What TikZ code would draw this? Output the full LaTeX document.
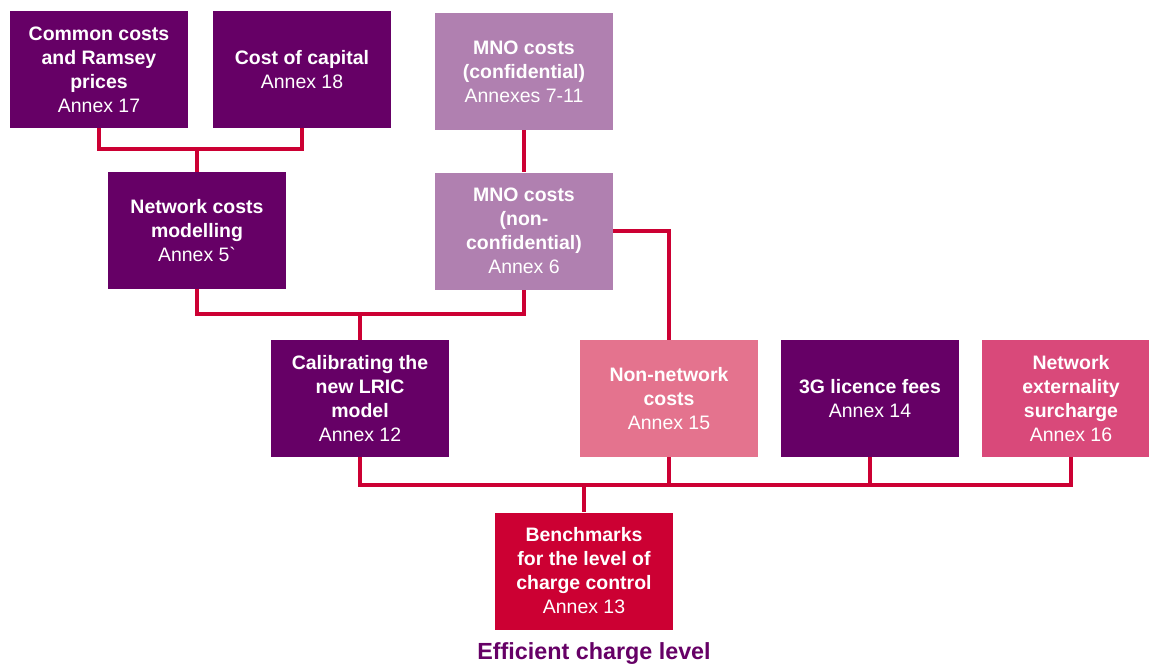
\documentclass[tikz,border=0pt]{standalone}
\usepackage{fontspec}
\setmainfont{Liberation Sans}
\usetikzlibrary{positioning}
\definecolor{deeppurple}{RGB}{102,0,102}
\definecolor{lilac}{RGB}{176,128,176}
\definecolor{rosepink}{RGB}{228,115,142}
\definecolor{raspberry}{RGB}{217,73,122}
\definecolor{crimson}{RGB}{204,0,51}
\tikzset{
  annexbox/.style={
    rectangle,
    fill=#1,
    text=white,
    minimum width=133.5pt,
    minimum height=87.75pt,
    inner sep=0pt,
    align=center,
    font=\fontsize{14.6}{18}\selectfont\bfseries
  },
  link/.style={draw=crimson,line width=2.3pt},
  caption/.style={font=\fontsize{17.5}{20}\selectfont\bfseries,text=deeppurple}
}
\newcommand{\annexline}[1]{{\mdseries #1}}

\begin{document}
\begin{tikzpicture}[x=0.75pt,y=-0.75pt]
  \clip (0,0) rectangle (1149,665);
  \fill[white] (0,0) rectangle (1149,665);

  % Top row
  \node[annexbox=deeppurple] (common) at (99,69.5)
    {Common costs\\and Ramsey\\prices\\\annexline{Annex 17}};
  \node[annexbox=deeppurple] (capital) at (302,69.5)
    {Cost of capital\\\annexline{Annex 18}};
  \node[annexbox=lilac] (mnoconf) at (524,71.5)
    {MNO costs\\(confidential)\\\annexline{Annexes 7-11}};

  % Second row
  \node[annexbox=deeppurple] (netmodel) at (197,230.5)
    {Network costs\\modelling\\\annexline{Annex 5\textasciigrave}};
  \node[annexbox=lilac] (mnononc) at (524,231)
    {MNO costs\\(non-\\confidential)\\\annexline{Annex 6}};

  % Third row
  \node[annexbox=deeppurple] (calib) at (360,398.5)
    {Calibrating the\\new LRIC\\model\\\annexline{Annex 12}};
  \node[annexbox=rosepink] (nonnet) at (669,398.5)
    {Non-network\\costs\\\annexline{Annex 15}};
  \node[annexbox=deeppurple] (licence) at (870,398.5)
    {3G licence fees\\\annexline{Annex 14}};
  \node[annexbox=raspberry] (extern) at (1071,398.5)
    {Network\\externality\\surcharge\\\annexline{Annex 16}};

  % Result
  \node[annexbox=crimson] (bench) at (584,571)
    {Benchmarks\\for the level of\\charge control\\\annexline{Annex 13}};
  \node[caption] (result) at (594,654) {Efficient charge level};

  % Connectors
  \coordinate (jtop) at (197,149);
  \draw[link] (common.south) |- (jtop) -| (capital.south);
  \draw[link] (jtop) -- (netmodel.north);
  \draw[link] (mnoconf.south) -- (mnononc.north);

  \coordinate (jmid) at (360,314);
  \draw[link] (netmodel.south) |- (jmid) -| (mnononc.south);
  \draw[link] (jmid) -- (calib.north);
  \draw[link] (mnononc.east) -| (nonnet.north);

  \coordinate (jlow) at (584,485);
  \draw[link] (calib.south) |- (jlow) -| (extern.south);
  \draw[link] (nonnet.south) -- (nonnet.south |- jlow);
  \draw[link] (licence.south) -- (licence.south |- jlow);
  \draw[link] (jlow) -- (bench.north);
\end{tikzpicture}
\end{document}
